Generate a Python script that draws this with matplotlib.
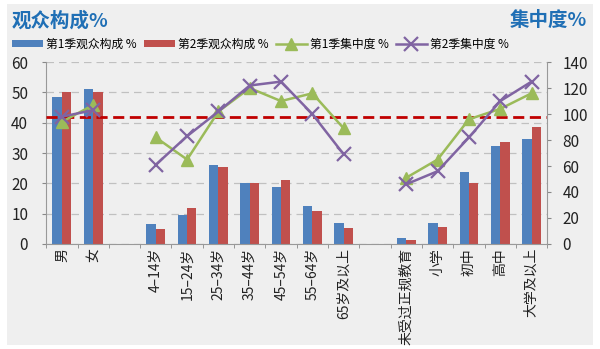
import numpy as np
import matplotlib.pyplot as plt
from matplotlib.patches import Rectangle

plt.rcParams['font.family'] = ['Noto Sans CJK SC', 'DejaVu Sans']

# categories (empty strings are gaps between groups)
categories = ["男", "女", "", "4–14岁", "15–24岁", "25–34岁", "35–44岁", "45–54岁",
              "55–64岁", "65岁及以上", "", "未受过正规教育", "小学", "初中", "高中", "大学及以上"]

nan = np.nan
s1_share = [48.5, 51.2, nan, 6.5, 9.5, 26.0, 20.0, 18.8, 12.4, 6.8, nan, 1.8, 6.8, 23.9, 32.4, 34.5]
s2_share = [50.0, 50.0, nan, 5.0, 12.0, 25.5, 20.0, 21.2, 10.8, 5.2, nan, 1.4, 5.7, 20.0, 33.6, 38.5]
s1_conc = [94, 107, nan, 82, 65, 102, 120, 110, 116, 89, nan, 51, 65, 96, 104, 116]
s2_conc = [98, 103, nan, 61, 83, 102, 122, 125, 100, 69, nan, 46, 56, 82, 110, 125]
ref_level = 42  # left-axis value of red dashed line

blue = "#4f81bd"
red = "#c0504d"
green = "#9bbb59"
purple = "#8064a2"
bg = "#efefef"
title_col = "#1f6fb5"

fig = plt.figure(figsize=(6, 3.49), dpi=100, facecolor="white")
fig.patches.append(Rectangle((0.012, 0.012), 0.976, 0.976, transform=fig.transFigure,
                             facecolor=bg, edgecolor="none", zorder=-1))

ax = fig.add_axes([0.077, 0.301, 0.835, 0.521])
ax.set_facecolor(bg)
x = np.arange(len(categories))
w = 0.3
ax.bar(x - w / 2, s1_share, w, color=blue, label="第1季观众构成 %", zorder=2)
ax.bar(x + w / 2, s2_share, w, color=red, label="第2季观众构成 %", zorder=2)
ax.set_ylim(0, 60)
ax.set_yticks(range(0, 61, 10))
ax.set_xlim(-0.5, len(categories) - 0.5)
ax.yaxis.grid(True, color="#c0c0c0", linestyle=(0, (6, 4)), linewidth=0.9, zorder=0)
ax.set_axisbelow(True)
ax.axhline(ref_level, color="#c00000", linestyle=(0, (4, 2)), linewidth=2, zorder=5)

ax.set_xticks(x)
ax.set_xticklabels(categories, rotation=90, fontsize=10, color="#222222")
ax.tick_params(axis="x", length=0, pad=3)
ax.set_xticks(np.arange(-0.5, len(categories), 1), minor=True)
ax.tick_params(axis="x", which="minor", length=3, color="#888888")
ax.tick_params(axis="y", length=3, color="#888888", labelsize=11, labelcolor="#222222", pad=10)
for side in ["top", "right"]:
    ax.spines[side].set_visible(False)
ax.spines["left"].set_color("#999999")
ax.spines["bottom"].set_color("#999999")

ax2 = ax.twinx()
ax2.plot(x, s1_conc, color=green, marker="^", markersize=9, linewidth=1.8,
         label="第1季集中度 %", zorder=4)
ax2.plot(x, s2_conc, color=purple, marker="x", markersize=10, markeredgewidth=1.6,
         linewidth=1.8, label="第2季集中度 %", zorder=4)
ax2.set_ylim(0, 140)
ax2.set_yticks(range(0, 141, 20))
ax2.tick_params(axis="y", labelsize=11, labelcolor="#222222", length=3, color="#888888", pad=8)
for side in ["top", "left", "bottom"]:
    ax2.spines[side].set_visible(False)
ax2.spines["right"].set_color("#999999")

fig.text(0.02, 0.925, "观众构成%", fontsize=14, fontweight="bold", color=title_col)
fig.text(0.978, 0.925, "集中度%", fontsize=14, fontweight="bold", color=title_col, ha="right")

h1, l1 = ax.get_legend_handles_labels()
h2, l2 = ax2.get_legend_handles_labels()
fig.legend(h1 + h2, l1 + l2, loc="center left", bbox_to_anchor=(0.012, 0.873), ncol=4,
           frameon=False, fontsize=8.5, handlelength=2.6, handleheight=0.6,
           columnspacing=0.6, handletextpad=0.3, borderaxespad=0)

fig.savefig("out.png", dpi=100, facecolor=fig.get_facecolor())
